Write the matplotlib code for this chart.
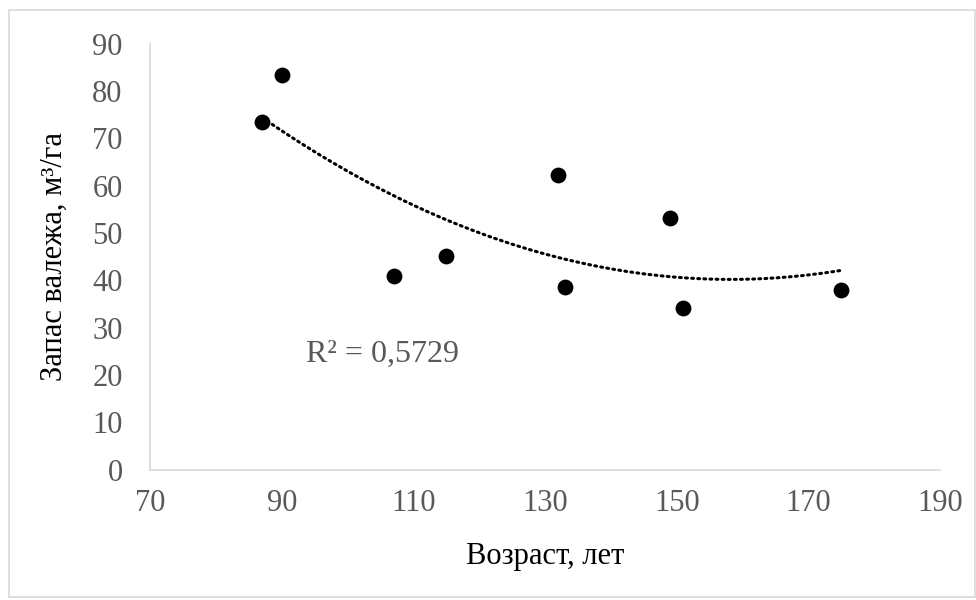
import numpy as np
import matplotlib
matplotlib.use("Agg")
from matplotlib import pyplot as plt
from matplotlib.patches import Rectangle

# age, years / deadwood stock, m3/ha
age = [87, 90, 107, 115, 132, 133, 149, 151, 175]
stock = [73.5, 83.5, 41.0, 45.2, 62.3, 38.7, 53.2, 34.2, 38.0]
xticks = [70, 90, 110, 130, 150, 170, 190]
yticks = [0, 10, 20, 30, 40, 50, 60, 70, 80, 90]
r2_label = "R² = 0,5729"

plt.rcParams['font.family'] = ['Liberation Serif', 'DejaVu Serif']

fig = plt.figure(figsize=(9.76, 6.0), dpi=100)
ax = fig.add_axes([0.154, 0.217, 0.809, 0.71])

# polynomial trendline, order 2
coef = np.polyfit(age, stock, 2)
xs = np.linspace(min(age), max(age), 200)
ax.plot(xs, np.polyval(coef, xs), color="black", linewidth=2.2,
        linestyle=(0, (0.6, 1.4)), dash_capstyle="round", zorder=2)

ax.scatter(age, stock, s=130, color="black", zorder=3, linewidths=0)

ax.set_xlim(70, 190)
ax.set_ylim(0, 90)
ax.set_xticks(xticks)
ax.set_yticks(yticks)
ax.tick_params(length=0, labelsize=22, labelcolor="#595959")
ax.tick_params(axis="y", pad=20)
ax.tick_params(axis="x", pad=14)

for side in ["top", "right"]:
    ax.spines[side].set_visible(False)
for side in ["left", "bottom"]:
    ax.spines[side].set_color("#d9d9d9")
    ax.spines[side].set_linewidth(1.2)

ax.set_xlabel("Возраст, лет", fontsize=22, labelpad=17)
ax.set_ylabel("Запас валежа, м³/га", fontsize=22, labelpad=17)

ax.text(93.6, 24.3, r2_label, fontsize=23, color="#595959", va="center", ha="left")

fig.patches.append(Rectangle((0.009, 0.005), 0.99, 0.978, transform=fig.transFigure,
                             fill=False, edgecolor="#d9d9d9", linewidth=1.2))

plt.savefig("out.png", dpi=100)
